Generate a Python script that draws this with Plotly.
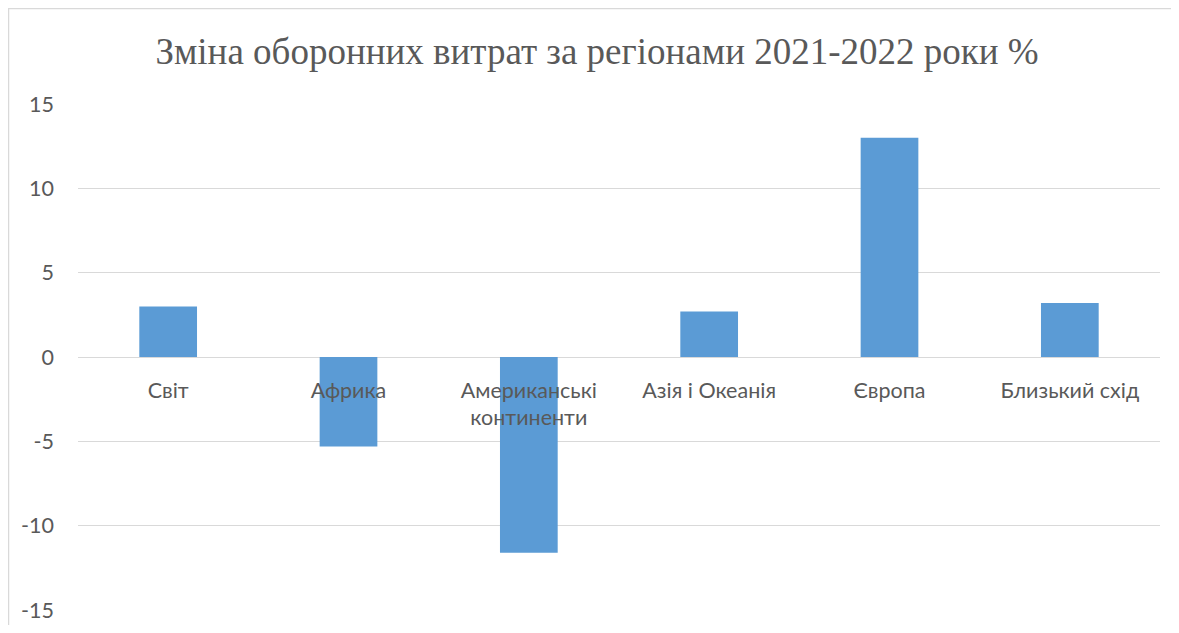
import plotly.graph_objects as go

regions = ["Світ", "Африка", "Американські<br>континенти", "Азія і Океанія", "Європа", "Близький схід"]
change_pct = [3.0, -5.3, -11.6, 2.7, 13.0, 3.2]
y_ticks = [-15, -10, -5, 0, 5, 10, 15]
y_tick_text = ["-15", "-10", "-5", "0", "5", "10", "15"]
title_text = "Зміна оборонних витрат за регіонами 2021-2022 роки %"

# page is rendered with an 8px body margin; keep figure inside the window
W, H = 1163, 617
ml, mr, mt, mb = 70, 11, 96, 15
pw, ph = W - ml - mr, H - mt - mb

fig = go.Figure(go.Bar(x=list(range(len(regions))), y=change_pct, marker_color="#5b9bd5",
                       marker_line_width=0))

def px_x(p):
    return (p - ml) / pw

def px_y(p):
    return (H - mb - p) / ph

FONT = "Lato"
FS = 21.5
border = dict(color="#d9d9d9", width=1.5)
fig.update_layout(
    width=W, height=H,
    margin=dict(l=ml, r=mr, t=mt, b=mb, autoexpand=False),
    paper_bgcolor="white", plot_bgcolor="white",
    bargap=0.68,
    showlegend=False,
    title=dict(text=title_text, x=589 / W, xref="container", xanchor="center",
               y=1 - 43 / H, yref="container", yanchor="middle",
               font=dict(family="Liberation Serif", size=37, color="#595959")),
    font=dict(family=FONT, size=FS, color="#595959"),
    xaxis=dict(tickmode="array", tickvals=list(range(len(regions))), ticktext=regions,
               range=[-0.5, len(regions) - 0.5], anchor="free", position=0.5,
               showline=False, showgrid=False, zeroline=False, ticks="",
               ticklabelstandoff=18, automargin=False,
               tickfont=dict(family=FONT, size=FS, color="#595959")),
    yaxis=dict(range=[-15, 15], tickvals=y_ticks, ticktext=y_tick_text, showgrid=True,
               gridcolor="#d9d9d9", gridwidth=1, zeroline=True, zerolinecolor="#d9d9d9",
               zerolinewidth=1, showline=False, ticks="", ticklabelstandoff=23,
               automargin=False,
               tickfont=dict(family=FONT, size=FS, color="#595959")),
    shapes=[
        dict(type="line", xref="paper", yref="paper", x0=px_x(0), x1=px_x(W),
             y0=px_y(0.5), y1=px_y(0.5), line=border, layer="below"),
        dict(type="line", xref="paper", yref="paper", x0=px_x(0.5), x1=px_x(0.5),
             y0=px_y(0), y1=px_y(H), line=border, layer="below"),
    ],
)

fig.write_html("out.html")
